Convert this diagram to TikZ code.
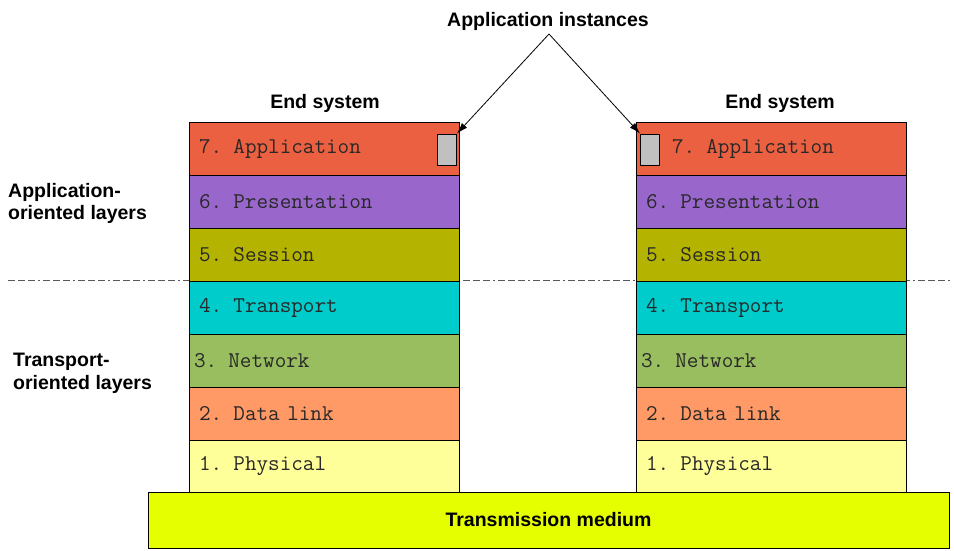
\documentclass[tikz,border=0pt]{standalone}
\usepackage{fontspec}
\setmainfont{Liberation Sans}
\usetikzlibrary{arrows.meta}

\definecolor{cApp}{RGB}{235,96,64}
\definecolor{cPres}{RGB}{153,102,204}
\definecolor{cSess}{RGB}{179,179,0}
\definecolor{cTrans}{RGB}{0,204,204}
\definecolor{cNet}{RGB}{153,190,96}
\definecolor{cLink}{RGB}{255,153,102}
\definecolor{cPhys}{RGB}{255,255,153}
\definecolor{cMedium}{RGB}{230,255,0}
\definecolor{cInst}{RGB}{192,192,192}
\definecolor{cText}{RGB}{40,40,40}

\begin{document}
\begin{tikzpicture}[x=1pt,y=-1pt,
  layer/.style={draw=black, line width=1pt, fill=#1, minimum width=270pt,
    minimum height=53pt, text width=250pt, inner xsep=10pt, inner ysep=0pt,
    align=left, text=cText, font=\ttfamily\fontsize{22.5}{26}\selectfont},
  heading/.style={font=\bfseries\fontsize{19.5}{23}\selectfont, text=black,
    inner sep=0pt},
  sidelabel/.style={heading, align=left, anchor=north west},
  instbox/.style={draw=black, line width=1pt, fill=cInst, minimum width=19pt,
    minimum height=31pt, inner sep=0pt},
  pointer/.style={draw=black, line width=0.8pt, -{Latex[length=11pt,width=7pt]}},
  divider/.style={draw=black!65, line width=1pt,
    dash pattern=on 7pt off 3pt on 7pt off 3pt on 7pt off 3pt on 2pt off 3pt}
]
\useasboundingbox (0,0) rectangle (954,550);

% boundary between application- and transport-oriented layers
\coordinate (divL) at (8,280);
\coordinate (divR) at (952,280);
\draw[divider] (divL) -- (divR);

% left end system
\node[layer=cApp]   (L7) at (324,148.5) {7. Application};
\node[layer=cPres]  (L6) at (324,201.5) {6. Presentation};
\node[layer=cSess]  (L5) at (324,254.5) {5. Session};
\node[layer=cTrans] (L4) at (324,307.5) {4. Transport};
\node[layer=cNet]   (L3) at (324,360.5) {\hspace*{-5pt}3. Network};
\node[layer=cLink]  (L2) at (324,413.5) {2. Data link};
\node[layer=cPhys]  (L1) at (324,466.5) {1. Physical};

% right end system
\node[layer=cApp]   (R7) at (771,148.5) {\hspace*{26pt}7. Application};
\node[layer=cPres]  (R6) at (771,201.5) {6. Presentation};
\node[layer=cSess]  (R5) at (771,254.5) {5. Session};
\node[layer=cTrans] (R4) at (771,307.5) {4. Transport};
\node[layer=cNet]   (R3) at (771,360.5) {\hspace*{-5pt}3. Network};
\node[layer=cLink]  (R2) at (771,413.5) {2. Data link};
\node[layer=cPhys]  (R1) at (771,466.5) {1. Physical};

% shared medium
\node[draw=black, line width=1pt, fill=cMedium, minimum width=801pt,
  minimum height=56pt, inner sep=0pt,
  font=\bfseries\fontsize{19.5}{23}\selectfont] (medium) at (548.5,520)
  {Transmission medium};

% application instances
\node[instbox] (instL) at (447,149.5) {};
\node[instbox] (instR) at (650,149.5) {};

% headings
\node[heading] (title) at (548,21) {Application instances};
\node[heading] (esL) at (325,103) {End system};
\node[heading] (esR) at (780,103) {End system};
\node[sidelabel] (appSide) at (8,183)
  {Application-\\[-0.5pt]oriented layers};
\node[sidelabel] (trSide) at (13,353)
  {Transport-\\[-0.5pt]oriented layers};

% pointers to the instances
\coordinate (apex) at (549,34);
\draw[pointer] (apex) -- (instL.north east);
\draw[pointer] (apex) -- (instR.north west);
\end{tikzpicture}
\end{document}
